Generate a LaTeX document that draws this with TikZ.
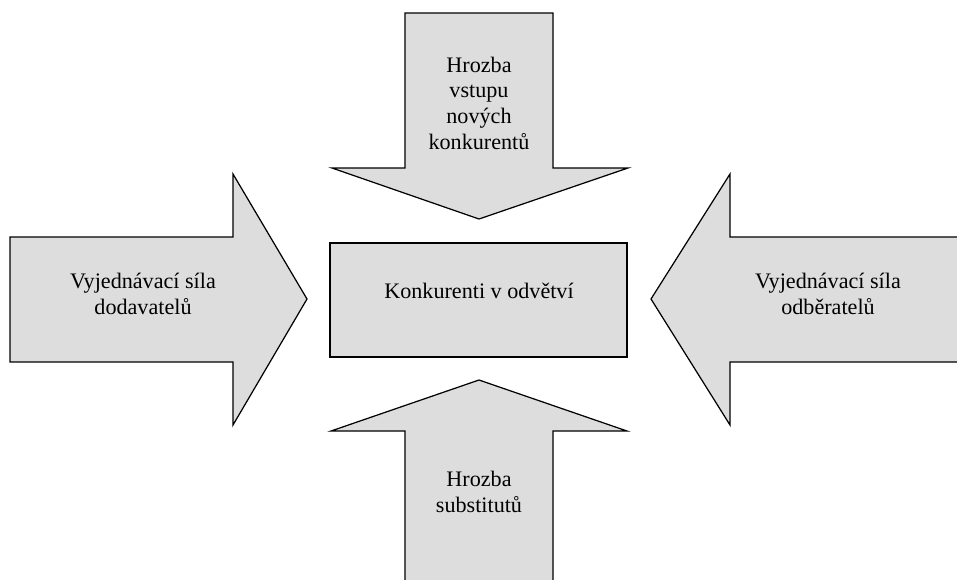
\documentclass[tikz,border=0pt]{standalone}
\usepackage{fontspec}
\setmainfont{Liberation Serif}
\usepackage{xcolor}
\definecolor{shade}{HTML}{DDDDDD}
\tikzset{
  every picture/.style={line join=miter},
  force/.style={draw=black, fill=shade, line width=0.7pt},
  lab/.style={align=center, inner sep=0pt, font=\fontsize{12.6}{14.6}\selectfont},
}

\begin{document}
\begin{tikzpicture}[x=0.02cm,y=-0.02cm]
\useasboundingbox (0,0) rectangle (957,579);
\clip (0,0) rectangle (957,579);
% top: new entrants
\draw[force] (405,13)--(553,13)--(553,168)--(628,168)--(479,219)--(332,168)--(405,168)--cycle;
\node[lab] (entrants) at (479,103) {Hrozba\\vstupu\\nových\\konkurentů};
% left: suppliers
\draw[force] (10,237)--(233,237)--(233,174)--(307,299)--(233,425)--(233,362)--(10,362)--cycle;
\node[lab] (suppliers) at (143,294) {Vyjednávací síla\\dodavatelů};
% right: buyers
\draw[force] (970,237)--(730,237)--(730,174)--(651,299)--(730,425)--(730,362)--(970,362)--cycle;
\node[lab] (buyers) at (828,294) {Vyjednávací síla\\odběratelů};
% bottom: substitutes
\draw[force] (405,590)--(405,431)--(331,431)--(479,380)--(627,431)--(553,431)--(553,590)--cycle;
\node[lab] (substitutes) at (479,492) {Hrozba\\substitutů};
% centre: rivals
\draw[force] (330,243) rectangle (627,357);
\node[lab] (rivals) at (479,291) {Konkurenti v odvětví};
\end{tikzpicture}
\end{document}
